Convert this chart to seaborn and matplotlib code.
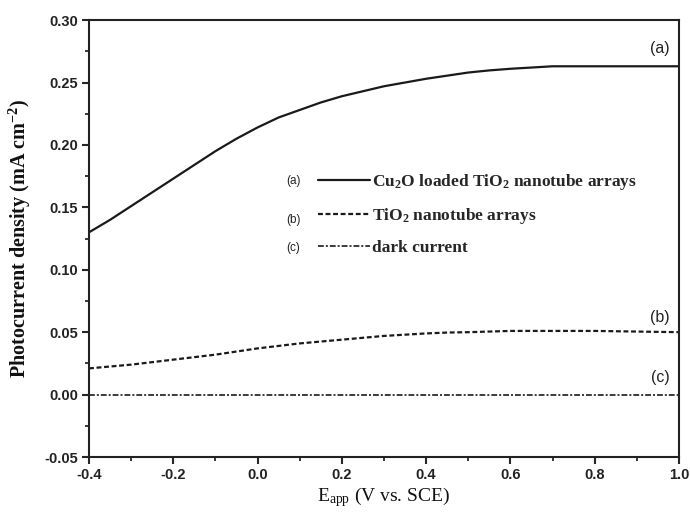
import numpy as np
import pandas as pd
import matplotlib
matplotlib.use("Agg")
import matplotlib.pyplot as plt
import seaborn as sns
from matplotlib.ticker import MultipleLocator
from matplotlib.lines import Line2D

# ---- data ----
e_app = [-0.40, -0.35, -0.30, -0.25, -0.20, -0.15, -0.10, -0.05, 0.00, 0.05, 0.10, 0.15,
         0.20, 0.25, 0.30, 0.35, 0.40, 0.45, 0.50, 0.55, 0.60, 0.65, 0.70, 0.80, 0.90, 1.00]
cu2o_tio2 = [0.130, 0.140, 0.151, 0.162, 0.173, 0.184, 0.195, 0.205, 0.214, 0.222, 0.228, 0.234,
             0.239, 0.243, 0.247, 0.250, 0.253, 0.2555, 0.258, 0.2597, 0.261, 0.262, 0.263, 0.263, 0.263, 0.263]
tio2 = [0.021, 0.0225, 0.024, 0.026, 0.028, 0.030, 0.032, 0.0345, 0.037, 0.039, 0.041, 0.0425,
        0.044, 0.0455, 0.047, 0.048, 0.049, 0.0497, 0.050, 0.0505, 0.051, 0.051, 0.051, 0.051, 0.0505, 0.050]
dark = [0.0] * len(e_app)

series_names = ["(a)", "(b)", "(c)"]
legend_labels = [r"Cu$_2$O loaded TiO$_2$ nanotube arrays",
                 r"TiO$_2$ nanotube arrays",
                 "dark current"]
x_ticks = [-0.4, -0.2, 0.0, 0.2, 0.4, 0.6, 0.8, 1.0]
y_ticks = [-0.05, 0.00, 0.05, 0.10, 0.15, 0.20, 0.25, 0.30]

sns.set_theme(style="white")
plt.rcParams["mathtext.default"] = "regular"
plt.rcParams["font.family"] = ["Liberation Serif", "DejaVu Serif"]

fig = plt.figure(figsize=(6.9, 5.22), dpi=100)
ax = fig.add_axes([0.129, 0.1245, 0.855, 0.837])

styles = [dict(linestyle="-", linewidth=1.6),
          dict(linestyle=(0, (2.2, 1.2)), linewidth=1.6),
          dict(linestyle=(0, (3.5, 1.2, 1.2, 1.2)), linewidth=1.2)]
values = [cu2o_tio2, tio2, dark]

handles = []
for vals, st, lab in zip(values, styles, legend_labels):
    df = pd.DataFrame({"E": e_app, "J": vals})
    sns.lineplot(data=df, x="E", y="J", ax=ax, color="#1a1a1a", **st)
    handles.append(Line2D([], [], color="#1a1a1a", **st))

ax.set_xlim(-0.4, 1.0)
ax.set_ylim(-0.05, 0.30)
ax.set_xticks(x_ticks)
ax.set_yticks(y_ticks)
ax.set_xticklabels([f"{t:.1f}" for t in x_ticks])
ax.set_yticklabels([f"{t:.2f}" for t in y_ticks])
ax.xaxis.set_minor_locator(MultipleLocator(0.1))
ax.yaxis.set_minor_locator(MultipleLocator(0.025))
ax.tick_params(which="major", direction="out", length=5, width=1.5,
               bottom=True, left=True, top=False, right=False, pad=3)
ax.tick_params(which="minor", direction="out", length=3, width=1.3,
               bottom=True, left=True, top=False, right=False)
for lbl in ax.get_xticklabels() + ax.get_yticklabels():
    lbl.set_family(["Liberation Sans", "DejaVu Sans"])
    lbl.set_fontweight("bold")
    lbl.set_fontsize(10.5)
    lbl.set_color("#222222")
for sp in ax.spines.values():
    sp.set_linewidth(1.5)
    sp.set_color("#222222")

ax.set_xlabel(r"E$_{app}$ (V vs. SCE)", fontsize=14, color="#111111", labelpad=2)
ax.set_ylabel(r"Photocurrent density (mA cm$^{-2}$)", fontsize=14.5,
              fontweight="bold", color="#111111", labelpad=8)

leg = ax.legend(handles, legend_labels, loc="upper left",
                bbox_to_anchor=(0.362, 0.688), frameon=False,
                handlelength=3.0, handletextpad=0.1, labelspacing=0.8,
                prop={"family": "Liberation Serif", "weight": "bold", "size": 12.5})

# series letters on the legend's left and at curve ends
leg_y = [0.632, 0.543, 0.478]
for name, yy in zip(series_names, leg_y):
    ax.text(0.335, yy, name, transform=ax.transAxes, fontsize=8.5,
            family=["Liberation Sans", "DejaVu Sans"], va="center", ha="left",
            color="#222222")

end_y = [0.277, 0.062, 0.014]
for name, yy in zip(series_names, end_y):
    ax.text(0.985, yy, name, fontsize=11.5, ha="right", va="center",
            transform=ax.get_yaxis_transform(), family=["Liberation Sans", "DejaVu Sans"],
            color="#222222")

fig.savefig("out.png", dpi=100)
